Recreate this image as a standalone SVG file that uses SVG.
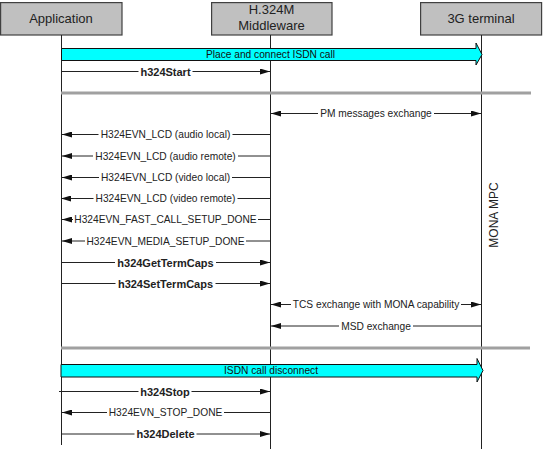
<svg xmlns="http://www.w3.org/2000/svg" width="543" height="449" viewBox="0 0 543 449">
<style>
.box{fill:#c0c0c0;stroke:#404040;stroke-width:1.2}
.ht{font-family:"Liberation Sans",Arial,sans-serif;font-size:13px;fill:#222;text-anchor:middle}
.life{stroke:#222;stroke-width:1;fill:none}
.msg{stroke:#222;stroke-width:1;fill:none;marker-end:url(#ah)}
.dbl{marker-start:url(#ah)}
.bg{fill:#fff}
.lbl{font-family:"Liberation Sans",Arial,sans-serif;font-size:10.2px;fill:#222;text-anchor:middle}
.b{font-weight:bold;font-size:11px}
.sep{stroke:#a0a0a0;stroke-width:3}
.cyan{fill:#00ffff;stroke:#111;stroke-width:1}
.ct{font-family:"Liberation Sans",Arial,sans-serif;font-size:10.2px;fill:#111;text-anchor:middle}
</style>
<defs>
<marker id="ah" viewBox="0 0 10 6" refX="10" refY="3" markerWidth="10" markerHeight="6" markerUnits="userSpaceOnUse" orient="auto-start-reverse">
<path d="M0,0 L10,3 L0,6 Z" fill="#111"/>
</marker>
</defs>
<g id="node-application">
<rect class="box" x="0.6" y="2.6" width="121.4" height="32.4"/>
<text class="ht" x="61" y="23">Application</text>
</g>
<g id="node-middleware">
<rect class="box" x="211.6" y="2.6" width="120.4" height="32.4"/>
<text class="ht" x="271.5" y="14">H.324M</text>
<text class="ht" x="271.5" y="30">Middleware</text>
</g>
<g id="node-3g">
<rect class="box" x="420.6" y="2.6" width="121" height="32.4"/>
<text class="ht" x="481" y="23">3G terminal</text>
</g>
<g id="lifelines">
<line class="life" x1="61.5" y1="35" x2="61.5" y2="445"/>
<line class="life" x1="270.5" y1="35" x2="270.5" y2="449"/>
<line class="life" x1="481.5" y1="35" x2="481.5" y2="449"/>
</g>
<g id="separators">
<line class="sep" x1="61" y1="93" x2="531" y2="93"/>
<line class="sep" x1="61" y1="348" x2="530" y2="348"/>
</g>
<g id="connectors">
<path class="cyan" d="M61.5,48.5 H476 V43 L482,54.5 L476,65 V60.5 H61.5 Z"/>
<text class="ct" x="270.5" y="58">Place and connect ISDN call</text>

<line class="msg" x1="61.5" y1="71.5" x2="270" y2="71.5"/>
<rect class="bg" x="138.5" y="66.5" width="54" height="10"/>
<text class="lbl b" x="165.5" y="75.5">h324Start</text>

<line class="msg dbl" x1="271" y1="113.5" x2="481" y2="113.5"/>
<rect class="bg" x="318" y="108.5" width="116" height="10"/>
<text class="lbl" x="376" y="117">PM messages exchange</text>

<line class="msg" x1="270.5" y1="134.5" x2="62" y2="134.5"/>
<rect class="bg" x="98.5" y="129.5" width="134" height="10"/>
<text class="lbl" x="165.5" y="138">H324EVN_LCD (audio local)</text>
<line class="msg" x1="270.5" y1="156" x2="62" y2="156"/>
<rect class="bg" x="93" y="151" width="145" height="10"/>
<text class="lbl" x="165.5" y="159.5">H324EVN_LCD (audio remote)</text>
<line class="msg" x1="270.5" y1="177.5" x2="62" y2="177.5"/>
<rect class="bg" x="99" y="172.5" width="133" height="10"/>
<text class="lbl" x="165.5" y="181">H324EVN_LCD (video local)</text>
<line class="msg" x1="270.5" y1="198.5" x2="61" y2="198.5"/>
<rect class="bg" x="93.5" y="193.5" width="144" height="10"/>
<text class="lbl" x="165.5" y="202">H324EVN_LCD (video remote)</text>
<line class="msg" x1="270.5" y1="219.5" x2="62" y2="219.5"/>
<rect class="bg" x="73" y="214.5" width="185" height="10"/>
<text class="lbl" x="165.5" y="223">H324EVN_FAST_CALL_SETUP_DONE</text>
<line class="msg" x1="270.5" y1="241" x2="62" y2="241"/>
<rect class="bg" x="85" y="236" width="161" height="10"/>
<text class="lbl" x="165.5" y="244.5">H324EVN_MEDIA_SETUP_DONE</text>

<line class="msg" x1="61.5" y1="262.5" x2="270" y2="262.5"/>
<rect class="bg" x="115" y="257.5" width="101" height="10"/>
<text class="lbl b" x="165.5" y="266.5">h324GetTermCaps</text>
<line class="msg" x1="61.5" y1="283.5" x2="270" y2="283.5"/>
<rect class="bg" x="115.5" y="278.5" width="100" height="10"/>
<text class="lbl b" x="165.5" y="287.5">h324SetTermCaps</text>

<line class="msg dbl" x1="271" y1="304.5" x2="481" y2="304.5"/>
<rect class="bg" x="291" y="299.5" width="170" height="10"/>
<text class="lbl" x="376" y="308">TCS exchange with MONA capability</text>
<line class="msg" x1="481" y1="326" x2="271" y2="326"/>
<rect class="bg" x="339" y="321" width="74" height="10"/>
<text class="lbl" x="376" y="329.5">MSD exchange</text>

<path class="cyan" d="M61,364.5 H477 V358.5 L483,370.5 L477,382 V377 H61 Z"/>
<text class="ct" x="271" y="374">ISDN call disconnect</text>

<line class="msg" x1="59" y1="391.5" x2="270" y2="391.5"/>
<rect class="bg" x="138.5" y="386.5" width="53" height="10"/>
<text class="lbl b" x="165" y="395.5">h324Stop</text>
<line class="msg" x1="270.5" y1="412.5" x2="62" y2="412.5"/>
<rect class="bg" x="107" y="407.5" width="117" height="10"/>
<text class="lbl" x="165.5" y="416">H324EVN_STOP_DONE</text>
<line class="msg" x1="61.5" y1="434" x2="270" y2="434"/>
<rect class="bg" x="134.5" y="429" width="62" height="10"/>
<text class="lbl b" x="165.5" y="438">h324Delete</text>
</g>
<text class="ht" x="0" y="0" style="font-size:12px" transform="translate(497.5,215) rotate(-90)">MONA MPC</text>
</svg>
